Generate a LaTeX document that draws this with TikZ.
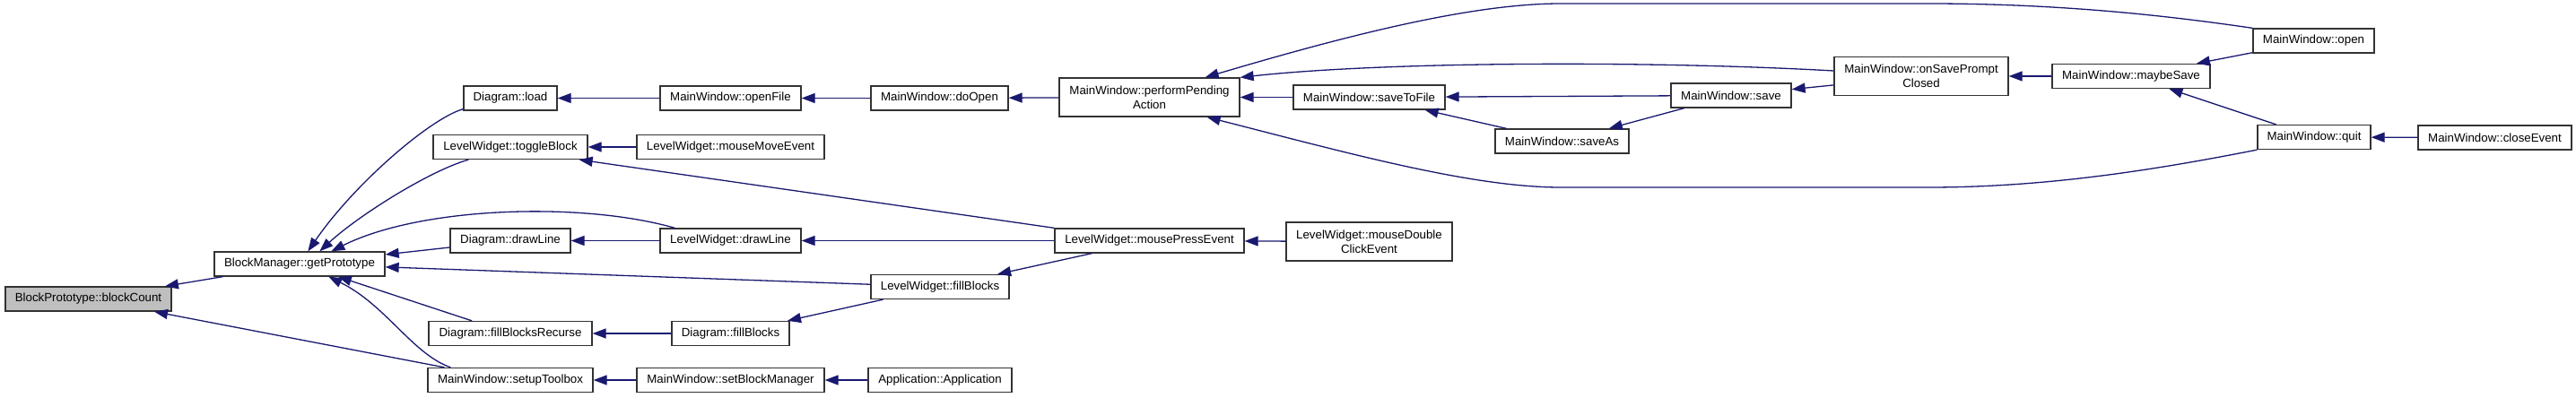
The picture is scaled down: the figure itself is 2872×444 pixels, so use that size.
\documentclass[tikz,border=0pt]{standalone}
\usepackage{fontspec}
\setmainfont{Liberation Sans}
\usetikzlibrary{arrows.meta}
\definecolor{cEdge}{HTML}{191970}
\definecolor{cCur}{HTML}{BFBFBF}
\definecolor{cLine}{HTML}{333333}

\begin{document}
\begin{tikzpicture}[
  x=1pt, y=-1pt,
  >={Triangle[length=15pt,width=11pt]},
  font=\fontsize{13.3}{16}\selectfont,
  fn/.style={draw=cLine, fill=white, line width=1.3pt, minimum width=#1,
             minimum height=27pt, inner sep=2pt, align=center},
  fnn/.style={fn=#1, minimum height=43pt},
  arr/.style={->, line width=1.3pt, color=cEdge},
]
\path[use as bounding box, fill=white] (0,0) rectangle (2872,444);

% ---- callee column ----
\node[fn=185pt, fill=cCur] (count) at (98.5,333.5) {BlockPrototype::blockCount};
\node[fn=190pt] (gproto) at (334,294.5) {BlockManager::getPrototype};

% ---- first callers ----
\node[fn=104pt] (load)    at (569,109.5) {Diagram::load};
\node[fn=172pt] (toggle)  at (569,164)   {LevelWidget::toggleBlock};
\node[fn=134pt] (ddraw)   at (569,268.5) {Diagram::drawLine};
\node[fn=182pt] (recurse) at (569,372)   {Diagram::fillBlocksRecurse};
\node[fn=184pt] (setup)   at (569,424)   {MainWindow::setupToolbox};

\node[fn=157pt] (openfile) at (814.5,109.5) {MainWindow::openFile};
\node[fn=209pt] (mmove)    at (814.5,164)   {LevelWidget::mouseMoveEvent};
\node[fn=157pt] (lwdraw)   at (814.5,268.5) {LevelWidget::drawLine};
\node[fn=131pt] (dfill)    at (814.5,372)   {Diagram::fillBlocks};
\node[fn=209pt] (setbm)    at (814.5,424)   {MainWindow::setBlockManager};

\node[fn=153pt] (doopen) at (1047.5,109.5) {MainWindow::doOpen};
\node[fn=154pt] (lwfill) at (1048,320)     {LevelWidget::fillBlocks};
\node[fn=160pt] (app)    at (1048,424)     {Application::Application};

\node[fnn=201pt] (perform) at (1281.5,108.5) {MainWindow::performPending\\Action};
\node[fn=211pt]  (mpress)  at (1281.5,268.5) {LevelWidget::mousePressEvent};

\node[fn=169pt]  (savefile) at (1526.5,108.5) {MainWindow::saveToFile};
\node[fnn=185pt] (dclick)   at (1526.5,269.5) {LevelWidget::mouseDouble\\ClickEvent};

% ---- save / quit side ----
\node[fn=149pt]  (saveas) at (1741.5,157.5) {MainWindow::saveAs};
\node[fn=134pt]  (save)   at (1930,106.5)   {MainWindow::save};
\node[fnn=194pt] (prompt) at (2142,85)      {MainWindow::onSavePrompt\\Closed};
\node[fn=176pt]  (maybe)  at (2376,85)      {MainWindow::maybeSave};
\node[fn=135pt]  (open)   at (2579.5,45.5)  {MainWindow::open};
\node[fn=126pt]  (quit)   at (2580,153)     {MainWindow::quit};
\node[fn=171pt]  (close)  at (2781.5,153.5) {MainWindow::closeEvent};

% ---- calls ----
\draw[arr] (gproto) -- (count);
\draw[arr] (setup) -- (count);

\draw[arr] ([yshift=2pt]load.south west) .. controls (480,132) and (395,205)
  .. ([xshift=105pt]gproto.north west);
\draw[arr] ([xshift=40pt]toggle.south west) .. controls (480,190) and (400,240)
  .. ([xshift=118pt]gproto.north west);
\draw[arr] ([xshift=17pt]lwdraw.north west) .. controls (650,225) and (470,230)
  .. ([xshift=131pt]gproto.north west);
\draw[arr] (ddraw) -- (gproto);
\draw[arr] (lwfill) -- (gproto);
\draw[arr] (recurse) -- (gproto);
\draw[arr] ([xshift=26pt]setup.north west) .. controls (460,395) and (430,340)
  .. ([xshift=128pt]gproto.south west);

\draw[arr] (openfile) -- (load);
\draw[arr] (mmove) -- (toggle);
\draw[arr] (mpress.north west) -- ([xshift=-10pt]toggle.south east);
\draw[arr] (lwdraw) -- (ddraw);
\draw[arr] (dfill) -- (recurse);
\draw[arr] (setbm) -- (setup);

\draw[arr] (doopen) -- (openfile);
\draw[arr] (mpress) -- (lwdraw);
\draw[arr] (lwfill) -- (dfill);
\draw[arr] (app) -- (setbm);
\draw[arr] (perform) -- (doopen);
\draw[arr] (mpress) -- (lwfill);
\draw[arr] (dclick) -- (mpress);

\draw[arr] (savefile) -- (perform);
\draw[arr] (save) -- (savefile);
\draw[arr] (saveas) -- (savefile);
\draw[arr] (save) -- (saveas);
\draw[arr] (prompt) -- (save);
\draw[arr] (maybe) -- (prompt);
\draw[arr] (open) -- (maybe);
\draw[arr] (quit) -- (maybe);
\draw[arr] (close) -- (quit);

% long ones back to performPending
\draw[arr] (open.north west) .. controls (2420,18) and (2300,4) .. (2150,4)
  -- (1740,4) .. controls (1640,4) and (1500,40) .. ([xshift=-39pt]perform.north east);
\draw[arr] ([yshift=6pt]prompt.west) .. controls (1850,68) and (1550,68)
  .. (perform.north east);
\draw[arr] (quit.south west) .. controls (2400,190) and (2280,209) .. (2150,209)
  -- (1740,209) .. controls (1640,209) and (1500,170) .. ([xshift=-37pt]perform.south east);

\end{tikzpicture}
\end{document}
